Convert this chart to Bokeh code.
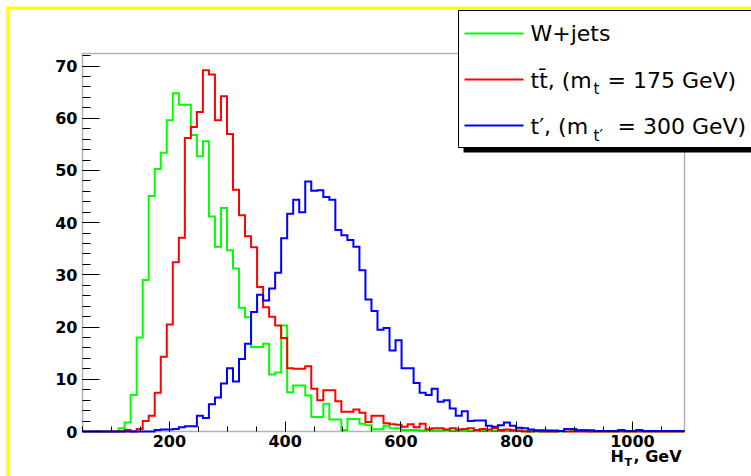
import numpy as np
from bokeh.plotting import figure
from bokeh.models import Range1d, BoxAnnotation, Label, FixedTicker
from bokeh.embed import file_html
from bokeh.resources import INLINE

# ---- data (histogram: 100 bins between x_lo and x_hi) ----
x_lo, x_hi, n_bins = 50.0, 1090.0, 100
y_top = 72.4

wjets = [0, 0, 0, 0, 0, 0,
         0.6, 1.7, 7.0, 18.0, 29.0, 45.1, 50.3, 53.4, 59.6, 64.8,
         62.6, 62.6, 56.8, 52.7, 55.6, 41.2, 35.4, 42.8, 34.7, 31.2,
         23.7, 21.9, 16.2, 16.2, 16.8, 10.9, 11.3, 20.3, 7.5, 8.8,
         8.8, 6.9, 2.8, 2.8, 5.3, 2.3, 2.3, 0.3, 2.4, 2.4,
         1.5, 1.2, 0.45, 0.45, 1.1, 0.6, 0.6, 0.3, 0.3, 0.3,
         0.2, 0.3, 0.2, 0.2, 0.3, 0.1, 0.2, 0.2, 0.1, 0.2,
         0.1, 0.2, 0.1, 0.1, 0.2, 0.1, 0.1, 0.1,
         0, 0, 0, 0, 0, 0,
         0.5, 0.3, 0.3, 0.3,
         0, 0, 0, 0, 0,
         0.3, 0, 0, 0.3,
         0, 0, 0, 0, 0, 0, 0]

ttbar = [0, 0, 0, 0, 0, 0, 0,
         0.3, 0, 0.5, 2.0, 3.0, 7.4, 14.3, 20.5, 32.4, 37.1,
         56.2, 58.3, 61.2, 69.2, 68.4, 59.6, 64.2, 57.0, 46.3, 41.4,
         37.4, 35.3, 27.7, 23.8, 22.0, 20.3, 17.9, 12.1, 12.0, 12.0,
         12.5, 8.2, 6.0, 7.9, 7.9, 5.8, 3.8, 3.8, 4.2, 3.6,
         1.8, 3.0, 3.0, 1.6, 1.4, 1.3, 0.9, 1.4, 0.8, 1.5,
         0.45, 0.6, 0.6, 0.4, 0.6, 0.4, 0.5, 0.6, 0.3, 0.5,
         0.4, 0.6, 0.3, 0.4, 0.3, 0.2,
         0, 0, 0.1, 0, 0, 0, 0.1, 0, 0, 0,
         0, 0, 0, 0, 0, 0, 0, 0, 0, 0,
         0, 0, 0, 0, 0, 0, 0]

tprime = [0, 0, 0, 0, 0, 0, 0, 0, 0, 0, 0, 0,
          0.3, 0.4, 0.4, 0.5, 0.8, 1.0, 1.0, 3.0, 2.6, 5.2,
          6.5, 9.2, 12.1, 9.6, 13.9, 16.8, 22.9, 26.2, 25.1, 27.4,
          30.4, 37.0, 41.7, 44.4, 42.0, 47.9, 46.1, 46.2, 44.9, 44.4,
          38.6, 37.6, 36.7, 35.4, 30.9, 25.3, 23.1, 19.5, 19.8, 15.5,
          17.5, 12.1, 12.1, 9.3, 7.4, 7.0, 8.2, 5.7, 6.0, 4.4,
          3.0, 3.9, 2.0, 2.1, 2.1, 1.1, 0.9, 1.2, 1.7, 1.1,
          0.7, 0.6, 0.4, 0.25, 0.25, 0.2, 0.2, 0.1, 0.5, 0.5,
          0.25, 0.25, 0.25, 0.1, 0.1, 0.1, 0.1, 0.3, 0.1, 0.1,
          0.3, 0.1, 0.1, 0.1, 0.1, 0.1, 0.1, 0.1]

x_major = [200, 400, 600, 800, 1000]
x_minor = list(range(50, 1100, 50))
y_major = [0, 10, 20, 30, 40, 50, 60, 70]
y_minor = list(range(0, 73, 2))

series = [(wjets, "#00ff00"), (ttbar, "#ff0000"), (tprime, "#0000ff")]

edges = np.linspace(x_lo, x_hi, n_bins + 1)

FONT = "DejaVu Sans"
W, H = 751, 476
# pixel box of the histogram area inside the canvas
PL, PR, PT, PB = 82, 684, 53, 431
sx_ = (PR - PL) / (x_hi - x_lo)
sy_ = (PB - PT) / y_top
xr = Range1d(x_lo - PL / sx_, x_hi + (W - PR) / sx_)
yr = Range1d(0 - (H - PB) / sy_, y_top + PT / sy_)

p = figure(width=W, height=H, output_backend="svg", toolbar_location=None,
           x_range=xr, y_range=yr,
           min_border_left=0, min_border_right=0,
           min_border_top=0, min_border_bottom=0)
p.grid.visible = False
p.background_fill_color = "white"
p.border_fill_color = "white"
p.outline_line_color = None

# histogram frame
p.add_layout(BoxAnnotation(left=x_lo, right=x_hi, bottom=0, top=y_top,
                           fill_color=None, line_color="black", line_width=1.5))

for vals, col in series:
    p.step(x=list(edges), y=list(vals) + [vals[-1]], mode="after",
           line_color=col, line_width=2, line_join="miter")

# axes, fixed on the histogram frame
p.xaxis.fixed_location = 0
p.yaxis.fixed_location = x_lo
p.xaxis.ticker = FixedTicker(ticks=x_major, minor_ticks=x_minor)
p.yaxis.ticker = FixedTicker(ticks=y_major, minor_ticks=y_minor)
for ax in (p.xaxis, p.yaxis):
    ax.axis_line_color = None
    ax.major_tick_line_color = "black"
    ax.minor_tick_line_color = "black"
    ax.major_tick_out = 0
    ax.minor_tick_out = 0
    ax.major_label_text_font = FONT
    ax.major_label_text_font_style = "bold"
    ax.major_label_text_font_size = "16px"
    ax.major_label_text_color = "black"
p.xaxis.major_tick_in = 10
p.xaxis.minor_tick_in = 5
p.xaxis.major_label_standoff = 3
p.yaxis.major_tick_in = 17
p.yaxis.minor_tick_in = 8
p.yaxis.major_label_standoff = 5


# ---- annotations in screen units (canvas pixels, y measured from top) ----
def box(l, t, r, b, fill, line=None, lw=1):
    kw = dict(left=l, right=r, top=H - t, bottom=H - b,
              left_units="screen", right_units="screen",
              top_units="screen", bottom_units="screen",
              fill_color=fill, fill_alpha=1.0)
    if line is None:
        kw.update(line_color=None)
    else:
        kw.update(line_color=line, line_width=lw, line_alpha=1.0)
    p.add_layout(BoxAnnotation(**kw))


TEXT_DY = -7  # measured offset of Label baselines


def text(cx, cy, s, size, bold=False):
    p.add_layout(Label(x=cx, y=H - (cy + TEXT_DY), x_units="screen", y_units="screen",
                       text=s, text_font=FONT, text_font_size=size,
                       text_font_style="bold" if bold else "normal",
                       text_color="black", text_align="left",
                       text_baseline="alphabetic"))


# yellow canvas border (top and left)
box(6, 6, 800, 9, "#ffff00")
box(6, 6, 9, 520, "#ffff00")

# legend: shadow, box, samples, texts
box(463, 147, 800, 152, "black")
box(458, 10, 800, 147, "white", line="black", lw=1)
leg_rows = [33, 79, 125]
for (vals, col), cy in zip(series, leg_rows):
    box(464, cy - 1, 523, cy + 1, col)

text(530, 40, "W+jets", "22px")
text(530, 87, "tt\u0304, (m", "22px")
text(593, 95, "t", "15px")
text(607, 87, "= 175 GeV)", "22px")
text(530, 133, "t\u2032, (m", "22px")
text(593, 142, "t\u2032", "15px")
text(617, 133, "= 300 GeV)", "22px")

# x axis title H_T, GeV
text(610, 463, "H", "16px", bold=True)
text(624, 469, "T", "11px", bold=True)
text(633, 463, ", GeV", "16px", bold=True)

open("out.html", "w").write(file_html(p, INLINE))
